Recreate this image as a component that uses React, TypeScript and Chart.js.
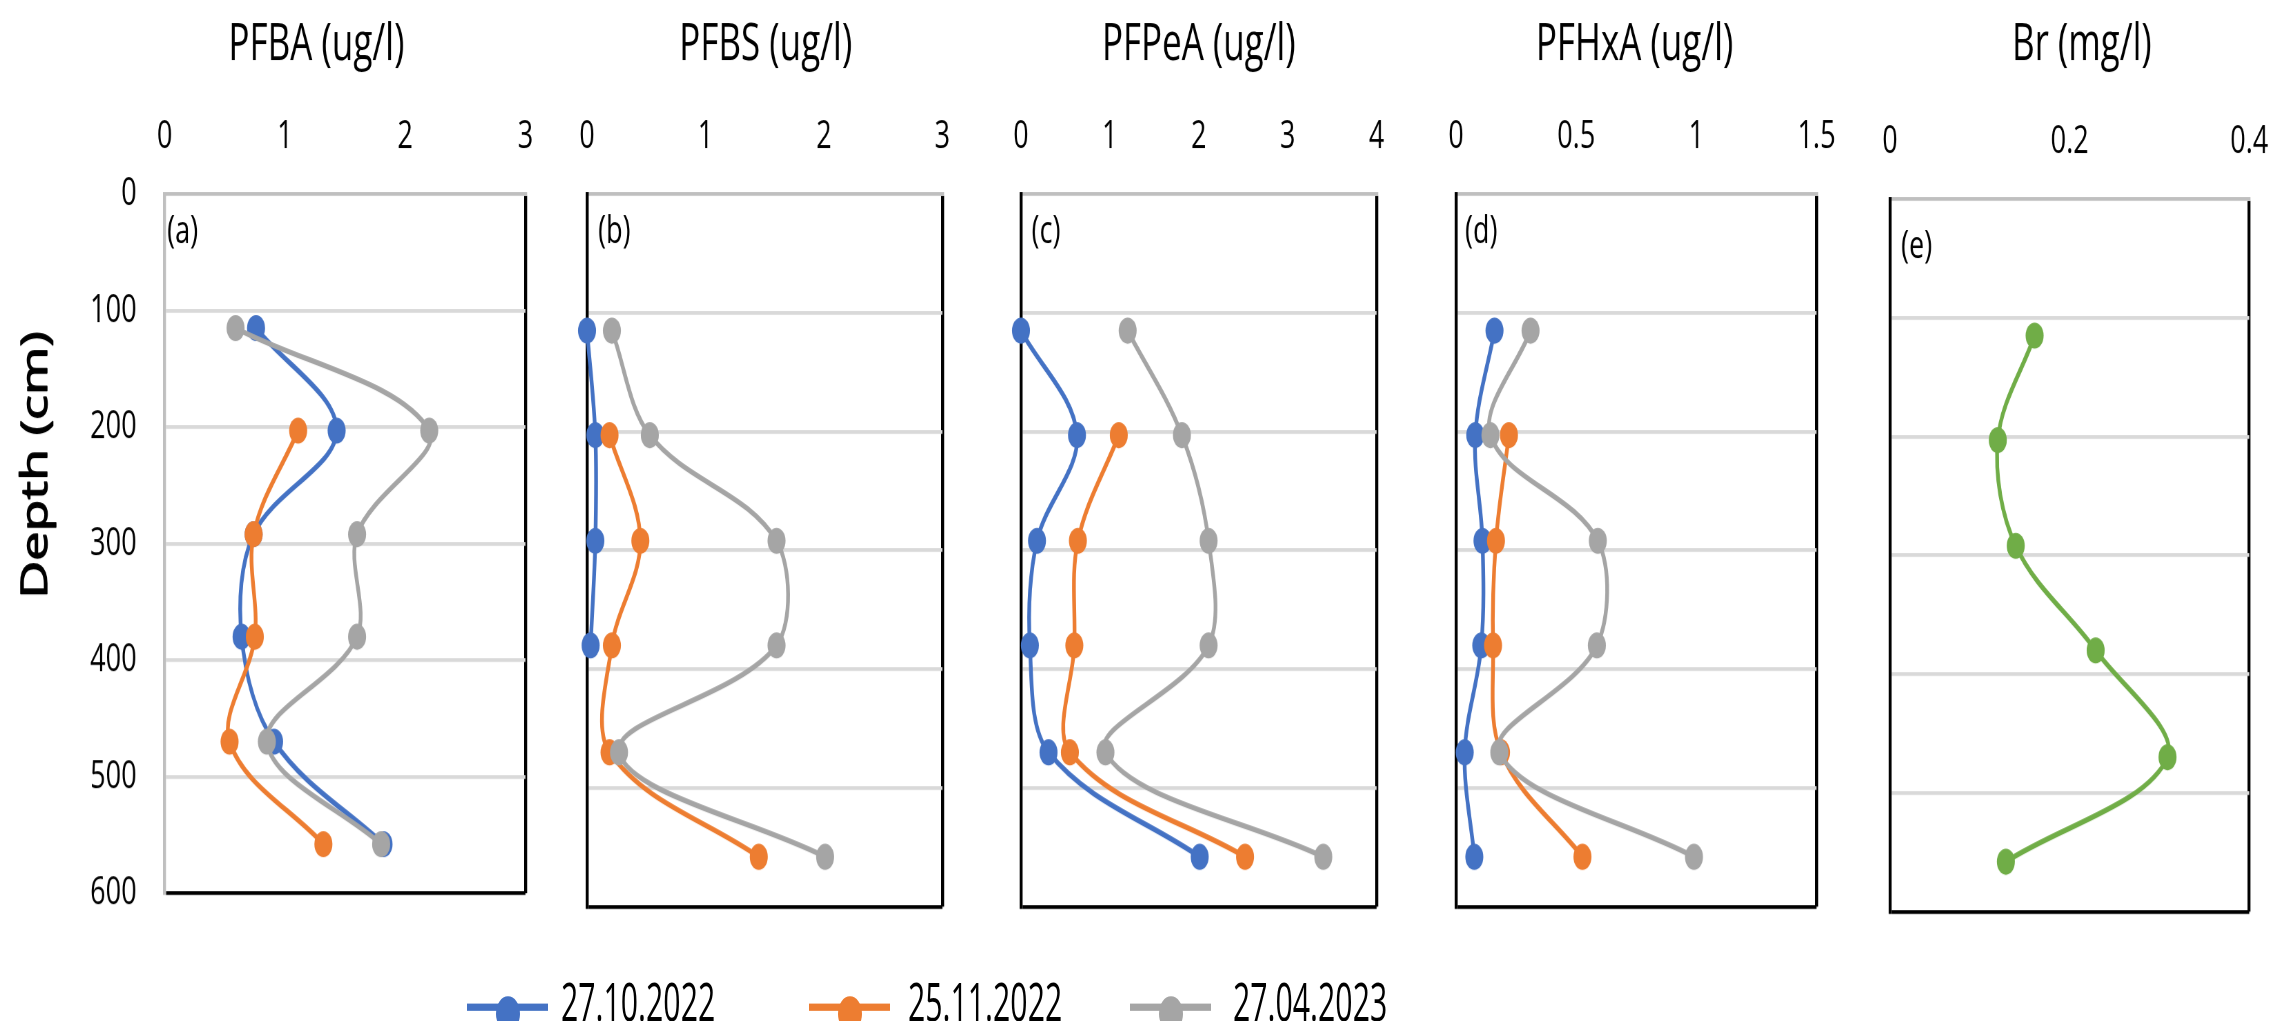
import React, { useEffect, useRef } from 'react';
import { Chart, registerables } from 'chart.js';

Chart.register(...registerables);
Chart.defaults.font.family = '"Open Sans", "DejaVu Sans", sans-serif';

// ---- data -------------------------------------------------------------
const DEPTH_CM = [115, 203, 292, 380, 470, 558];
const SAMPLING_DATES = ['27.10.2022', '25.11.2022', '27.04.2023'];

const PFBA_OCT22 = [0.76, 1.43, 0.74, 0.64, 0.91, 1.82];
const PFBA_NOV22 = [null, 1.11, 0.74, 0.75, 0.54, 1.32];
const PFBA_APR23 = [0.59, 2.2, 1.6, 1.6, 0.85, 1.8];

const PFBS_OCT22 = [0.0, 0.07, 0.07, 0.03, null, null];
const PFBS_NOV22 = [null, 0.19, 0.45, 0.21, 0.19, 1.45];
const PFBS_APR23 = [0.21, 0.53, 1.6, 1.6, 0.27, 2.01];

const PFPEA_OCT22 = [0.0, 0.63, 0.18, 0.1, 0.31, 2.01];
const PFPEA_NOV22 = [null, 1.1, 0.64, 0.6, 0.55, 2.52];
const PFPEA_APR23 = [1.2, 1.81, 2.11, 2.11, 0.95, 3.4];

const PFHXA_OCT22 = [0.16, 0.08, 0.11, 0.105, 0.036, 0.076];
const PFHXA_NOV22 = [null, 0.22, 0.166, 0.154, 0.187, 0.526];
const PFHXA_APR23 = [0.31, 0.143, 0.59, 0.586, 0.18, 0.99];

const BR_MGL = [0.161, 0.12, 0.14, 0.229, 0.309, 0.129];

const DATE_COLORS = ['#4472C4', '#ED7D31', '#A5A5A5'];
const BR_COLOR = '#70AD47';

// ---- layout -----------------------------------------------------------
// The figure is laid out in a 2273 x 704 frame and stretched vertically.
const FRAME_W = 2273;
const FRAME_H = 704;
const STRETCH_Y = 1021 / FRAME_H;
const CANVAS_H = 660;

type Values = (number | null)[];

type PanelSpec = {
  title: string;
  letter: string;
  max: number;
  step: number;
  series: Values[];
  colors: string[];
  labels: string[];
  left: number;
  right: number;
  top: number;
  bottom: number;
  titleDx: number;
  letterDx: number;
  letterDy: number;
  depthAxis: boolean;
};

const PANELS: PanelSpec[] = [
  {
    title: 'PFBA (ug/l)', letter: '(a)', max: 3, step: 1,
    series: [PFBA_OCT22, PFBA_NOV22, PFBA_APR23], colors: DATE_COLORS, labels: SAMPLING_DATES,
    left: 164.4, right: 524.8, top: 133.8, bottom: 625.2,
    titleDx: -28.6, letterDx: 2.5, letterDy: 33.5, depthAxis: true,
  },
  {
    title: 'PFBS (ug/l)', letter: '(b)', max: 3, step: 1,
    series: [PFBS_OCT22, PFBS_NOV22, PFBS_APR23], colors: DATE_COLORS, labels: SAMPLING_DATES,
    left: 586.5, right: 941.5, top: 133.8, bottom: 625.2,
    titleDx: 1, letterDx: 11, letterDy: 33.5, depthAxis: false,
  },
  {
    title: 'PFPeA (ug/l)', letter: '(c)', max: 4, step: 1,
    series: [PFPEA_OCT22, PFPEA_NOV22, PFPEA_APR23], colors: DATE_COLORS, labels: SAMPLING_DATES,
    left: 1020.5, right: 1376.4, top: 133.8, bottom: 625.2,
    titleDx: 0, letterDx: 10.6, letterDy: 33.5, depthAxis: false,
  },
  {
    title: 'PFHxA (ug/l)', letter: '(d)', max: 1.5, step: 0.5,
    series: [PFHXA_OCT22, PFHXA_NOV22, PFHXA_APR23], colors: DATE_COLORS, labels: SAMPLING_DATES,
    left: 1455.7, right: 1815.7, top: 133.8, bottom: 625.2,
    titleDx: -1.7, letterDx: 9, letterDy: 33.5, depthAxis: false,
  },
  {
    title: 'Br (mg/l)', letter: '(e)', max: 0.4, step: 0.2,
    series: [BR_MGL], colors: [BR_COLOR], labels: ['Br'],
    left: 1890.3, right: 2249.3, top: 137.2, bottom: 628.6,
    titleDx: 12.2, letterDx: 11, letterDy: 40.5, depthAxis: false,
  },
];

const PAD_RIGHT = 44;
const PAD_LEFT = 40;

const formatTick = (v: number | string) => String(Number(Number(v).toFixed(6)));

// Panel title, panel letter and the shared depth caption.
const panelDecor = {
  id: 'panelDecor',
  afterDraw(chart: any, _args: unknown, opts: any) {
    const { ctx, chartArea } = chart;
    ctx.save();
    ctx.fillStyle = '#000';
    ctx.textBaseline = 'alphabetic';

    ctx.textAlign = 'center';
    ctx.font = '35px "Open Sans"';
    ctx.fillText(opts.title, (chartArea.left + chartArea.right) / 2 + opts.titleDx, 41.4);

    ctx.textAlign = 'left';
    ctx.font = '27px "Open Sans"';
    ctx.fillText(opts.letter, chartArea.left + opts.letterDx, chartArea.top + opts.letterDy);

    if (opts.axisTitle) {
      ctx.translate(46.7, 320.6);
      ctx.rotate(-Math.PI / 2);
      ctx.textAlign = 'center';
      ctx.font = '36px "Open Sans"';
      ctx.strokeStyle = '#000';
      ctx.lineWidth = 1.1;
      ctx.lineJoin = 'round';
      ctx.fillText(opts.axisTitle, 0, 0);
      ctx.strokeText(opts.axisTitle, 0, 0);
    }
    ctx.restore();
  },
};

function ProfilePanel({ spec }: { spec: PanelSpec }) {
  const ref = useRef<HTMLCanvasElement>(null);
  const padL = spec.depthAxis ? 0 : PAD_LEFT;
  const boxLeft = spec.depthAxis ? 0 : spec.left - padL;
  const boxWidth = spec.right + PAD_RIGHT - boxLeft;

  useEffect(() => {
    if (!ref.current) return;
    const n = spec.series.length;
    const datasets = spec.series.map((vals, i) => ({
      label: spec.labels[i],
      data: vals
        .map((v, j) => (v === null ? null : { x: v, y: DEPTH_CM[j] }))
        .filter((p) => p !== null) as { x: number; y: number }[],
      borderColor: spec.colors[i],
      backgroundColor: spec.colors[i],
      pointBackgroundColor: spec.colors[i],
      pointBorderColor: spec.colors[i],
      pointBorderWidth: 0,
      pointRadius: 9,
      borderWidth: 3.75,
      tension: 0.35,
      clip: false as const,
      order: n - i,
    }));

    const leftEdge = spec.depthAxis ? '#BFBFBF' : '#000';

    const chart = new Chart(ref.current, {
      type: 'line',
      data: { datasets },
      plugins: [panelDecor],
      options: {
        animation: false,
        responsive: true,
        maintainAspectRatio: false,
        devicePixelRatio: 1.45,
        indexAxis: 'y',
        events: [],
        layout: {
          padding: { left: padL, right: PAD_RIGHT, top: 0, bottom: CANVAS_H - spec.bottom },
        },
        plugins: {
          legend: { display: false },
          tooltip: { enabled: false },
          panelDecor: {
            title: spec.title,
            titleDx: spec.titleDx,
            letter: spec.letter,
            letterDx: spec.letterDx,
            letterDy: spec.letterDy,
            axisTitle: spec.depthAxis ? 'Depth (cm)' : '',
          },
        } as any,
        scales: {
          x: {
            type: 'linear',
            position: 'top',
            min: 0,
            max: spec.max,
            ticks: {
              stepSize: spec.step,
              padding: 23,
              color: '#000',
              font: { size: 27 },
              maxRotation: 0,
              autoSkip: false,
              callback: formatTick,
            },
            grid: {
              drawTicks: false,
              color: (c: any) => (Math.abs(c.tick.value - spec.max) < 1e-9 ? '#000' : 'rgba(0,0,0,0)'),
              lineWidth: 3,
            },
            border: { color: '#BFBFBF', width: 2.5 },
            afterFit: (s: any) => {
              s.height = spec.top;
            },
          },
          y: {
            type: 'linear',
            reverse: true,
            min: 0,
            max: 600,
            ticks: {
              stepSize: 100,
              display: spec.depthAxis,
              padding: 28,
              color: '#000',
              font: { size: 27 },
              callback: formatTick,
            },
            grid: {
              drawTicks: false,
              color: (c: any) =>
                c.tick.value === 600 ? '#000' : c.tick.value === 0 ? 'rgba(0,0,0,0)' : '#D9D9D9',
              lineWidth: 2.5,
            },
            border: { color: leftEdge, width: 3 },
            afterFit: (s: any) => {
              s.width = spec.depthAxis ? spec.left : 0;
            },
          },
        },
      } as any,
    });
    return () => chart.destroy();
  }, [spec]);

  return (
    <div style={{ position: 'absolute', left: boxLeft, top: 0, width: boxWidth, height: CANVAS_H }}>
      <canvas ref={ref} />
    </div>
  );
}

// Legend items: line start and text start along the bottom row.
const LEGEND_POS = [
  { line: 467, text: 561 },
  { line: 809, text: 908 },
  { line: 1130, text: 1233 },
];

function Legend() {
  return (
    <>
      {SAMPLING_DATES.map((d, i) => {
        const p = LEGEND_POS[i];
        return (
          <React.Fragment key={d}>
            <div
              style={{
                position: 'absolute', left: p.line, top: 694.5 - 2.5, width: 81, height: 5,
                background: DATE_COLORS[i],
              }}
            />
            <div
              style={{
                position: 'absolute', left: p.line + 40.5 - 12, top: 699 - 12, width: 24, height: 24,
                borderRadius: '50%', background: DATE_COLORS[i],
              }}
            />
            <span
              style={{
                position: 'absolute', left: p.text, top: 673, font: '36px "Open Sans"', lineHeight: '36px',
                color: '#000', whiteSpace: 'nowrap', transform: 'scaleX(0.84)', transformOrigin: 'left center',
              }}
            >
              {d}
            </span>
          </React.Fragment>
        );
      })}
    </>
  );
}

export default function App() {
  return (
    <div
      style={{
        position: 'fixed', left: 0, top: 0, width: FRAME_W, height: 1021, overflow: 'hidden',
        background: '#fff',
      }}
    >
      <div
        style={{
          position: 'absolute', left: 0, top: 0, width: FRAME_W, height: FRAME_H,
          transform: `scaleY(${STRETCH_Y})`, transformOrigin: 'top left',
        }}
      >
        {PANELS.map((p) => (
          <ProfilePanel key={p.letter} spec={p} />
        ))}
        <Legend />
      </div>
    </div>
  );
}
